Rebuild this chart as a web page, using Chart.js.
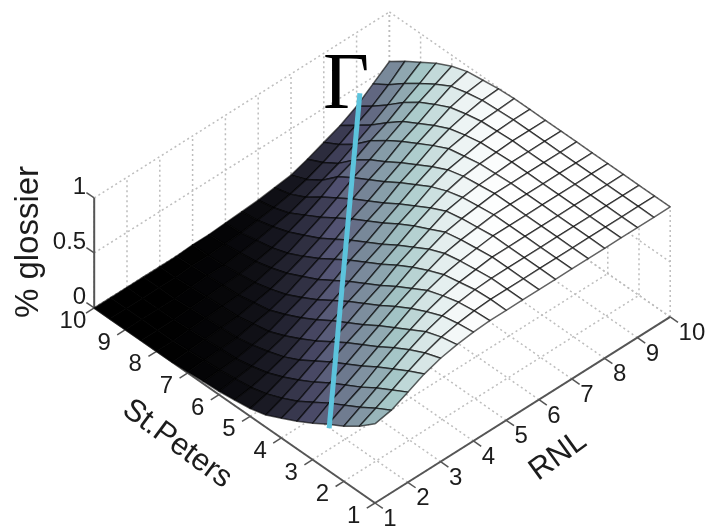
<!DOCTYPE html>
<html><head><meta charset="utf-8">
<style>html,body{margin:0;padding:0;background:#fff}canvas{display:block}</style>
<script src="https://cdn.jsdelivr.net/npm/chart.js@4/dist/chart.umd.min.js"></script>
</head><body><canvas id="c" width="720" height="527"></canvas>
<script>
const rnlTicks=[1,2,3,4,5,6,7,8,9,10];
const stPetersTicks=[1,2,3,4,5,6,7,8,9,10];
const glossTicks=[0,0.5,1];
const rnlGrid=[1,1.5,2,2.5,3,3.5,4,4.5,5,5.5,6,6.5,7,7.5,8,8.5,9,9.5,10];
const stPetersGrid=[1,1.5,2,2.5,3,3.5,4,4.5,5,5.5,6,6.5,7,7.5,8,8.5,9,9.5,10];
// % glossier: one row per RNL grid value, one column per St.Peters grid value
const gloss=[
[.72,.60,.50,.42,.33,.25,.18,.11,.07,.05,.03,.02,.01,0,0,0,0,0,0],
[.75,.67,.58,.50,.42,.33,.24,.17,.11,.07,.05,.03,.02,.01,0,0,0,0,0],
[.82,.74,.66,.57,.49,.41,.32,.24,.17,.11,.07,.04,.03,.02,.01,0,0,0,0],
[.89,.82,.74,.66,.57,.49,.41,.32,.23,.16,.11,.07,.04,.03,.02,.01,0,0,0],
[.94,.89,.82,.74,.65,.57,.49,.40,.31,.23,.16,.10,.07,.04,.03,.02,.01,0,0],
[.97,.94,.89,.81,.73,.65,.56,.48,.40,.31,.23,.16,.10,.07,.04,.03,.02,.01,0],
[.99,.97,.94,.88,.81,.73,.64,.56,.48,.39,.30,.22,.15,.10,.06,.04,.02,.01,.01],
[1,.99,.97,.93,.88,.80,.72,.63,.55,.47,.38,.29,.22,.15,.10,.06,.04,.02,.01],
[1,1,.99,.96,.93,.87,.80,.72,.63,.55,.47,.38,.29,.21,.14,.09,.06,.03,.02],
[1,1,1,.98,.96,.93,.87,.79,.71,.62,.54,.46,.37,.28,.21,.14,.09,.05,.03],
[1,1,1,1,.98,.96,.93,.86,.79,.71,.62,.54,.46,.37,.28,.20,.12,.07,.04],
[1,1,1,1,1,.98,.96,.93,.86,.78,.70,.61,.53,.45,.36,.27,.17,.10,.06],
[1,1,1,1,1,1,.98,.96,.92,.86,.78,.70,.61,.53,.45,.36,.23,.14,.08],
[1,1,1,1,1,1,1,.98,.96,.92,.85,.77,.69,.60,.52,.42,.29,.20,.13],
[1,1,1,1,1,1,1,.99,.98,.95,.92,.85,.77,.69,.60,.50,.37,.27,.19],
[1,1,1,1,1,1,1,1,.99,.98,.95,.91,.84,.76,.68,.57,.45,.35,.25],
[1,1,1,1,1,1,1,1,1,.99,.98,.95,.91,.84,.76,.66,.54,.43,.33],
[1,1,1,1,1,1,1,1,1,1,.99,.98,.95,.91,.83,.74,.64,.53,.44],
[1,1,1,1,1,1,1,1,1,1,1,.99,.97,.95,.90,.83,.74,.65,.55]
];
const gammaRnl=[1,9.1];
const gammaStPeters=[2.47,10];
const gammaGloss=[.39,.43];

// orthographic view of the 3-D box into the flat x/y scales
function view(r,s,z){
  return {x:375+(r-1)*32.8-(s-1)*31.2, y:503-(r-1)*20.67-(s-1)*21.67-z*110};
}
const boneStops=[[0,0,0,0],[.365,.32,.32,.445],[.746,.651,.785,.785],[1,1,1,1]];
function bone(v){
  for(let i=1;i<boneStops.length;i++){
    if(v<=boneStops[i][0]){
      const a=boneStops[i-1],b=boneStops[i],t=(v-a[0])/(b[0]-a[0]);
      return 'rgb('+[1,2,3].map(k=>Math.round(255*(a[k]+t*(b[k]-a[k])))).join(',')+')';
    }
  }
  return '#fff';
}
const datasets=[];
function line(pts,color,width,dash){
  datasets.push({data:pts,showLine:true,pointRadius:0,borderColor:color,borderWidth:width,borderDash:dash||[],fill:false,borderCapStyle:'butt'});
}
// top layer first: Chart.js paints the first dataset last
line(gammaRnl.map((r,i)=>view(r,gammaStPeters[i],gammaGloss[i])),'#5cc3dc',5);
for(let i=0;i<rnlGrid.length-1;i++){
  for(let j=0;j<stPetersGrid.length-1;j++){
    const z00=gloss[i][j],z10=gloss[i+1][j],z11=gloss[i+1][j+1],z01=gloss[i][j+1];
    const a=view(rnlGrid[i],stPetersGrid[j],z00),b=view(rnlGrid[i+1],stPetersGrid[j],z10),
          c=view(rnlGrid[i+1],stPetersGrid[j+1],z11),d=view(rnlGrid[i],stPetersGrid[j+1],z01);
    datasets.push({data:[a,b,c,d,a],showLine:true,pointRadius:0,fill:'shape',
      backgroundColor:bone((z00+z10+z11+z01)/4),borderColor:'rgba(0,0,0,.62)',borderWidth:1.5,borderJoinStyle:'round'});
  }
}
const axisColor='#555';
const rLo=rnlTicks[0],rHi=rnlTicks[9],sLo=stPetersTicks[0],sHi=stPetersTicks[9],zLo=glossTicks[0],zHi=glossTicks[2];
line([view(rLo,sHi,zLo),view(rLo,sHi,zHi)],axisColor,2);
line([view(rLo,sLo,zLo),view(rLo,sHi,zLo)],axisColor,2);
line([view(rLo,sLo,zLo),view(rHi,sLo,zLo)],axisColor,2);
stPetersTicks.forEach(s=>line([view(rLo,s,zLo),view(rLo-.25,s,zLo)],axisColor,1.5));
rnlTicks.forEach(r=>line([view(r,sLo,zLo),view(r,sLo-.25,zLo)],axisColor,1.5));
glossTicks.forEach(z=>line([view(rLo,sHi,z),view(rLo,sHi+.25,z)],axisColor,1.5));
const dotColor='#bdbdbd',dots=[2,3];
glossTicks.forEach(z=>{
  line([view(rLo,sHi,z),view(rHi,sHi,z)],dotColor,1.5,dots);
  line([view(rHi,sHi,z),view(rHi,sLo,z)],dotColor,1.5,dots);
});
rnlTicks.forEach(r=>{
  line([view(r,sHi,zLo),view(r,sHi,zHi)],dotColor,1.5,dots);
  line([view(r,sLo,zLo),view(r,sHi,zLo)],dotColor,1.5,dots);
});
stPetersTicks.forEach(s=>{
  line([view(rHi,s,zLo),view(rHi,s,zHi)],dotColor,1.5,dots);
  line([view(rLo,s,zLo),view(rHi,s,zLo)],dotColor,1.5,dots);
});

const labels={
  id:'labels3d',
  afterDraw(chart){
    const {ctx,scales:{x,y}}=chart;
    const at=(p)=>({px:x.getPixelForValue(p.x),py:y.getPixelForValue(p.y)});
    const put=(t,p,font,align,rot,base,color)=>{
      ctx.save();ctx.translate(p.px,p.py);ctx.rotate(rot||0);
      ctx.font=font;ctx.textAlign=align||'center';ctx.textBaseline=base||'middle';
      ctx.fillStyle=color||'#1c1c1c';ctx.fillText(t,0,0);ctx.restore();
    };
    const tickFont='24px "Liberation Sans"',titleFont='31px "Liberation Sans"';
    stPetersTicks.forEach(s=>{const a=at(view(rLo-.65,s,zLo));put(String(s),a,tickFont);});
    rnlTicks.forEach(r=>{const a=at(view(r,sLo-.3,zLo));put(String(r),{px:a.px-1,py:a.py+10},tickFont,'left');});
    glossTicks.forEach(z=>{const a=at(view(rLo,sHi,z));put(String(z),{px:a.px-8,py:a.py-11},tickFont,'right');});
    put('% glossier',{px:x.getPixelForValue(29),py:y.getPixelForValue(242)},'33px "Liberation Sans"','center',-Math.PI/2);
    put('St.Peters',{px:x.getPixelForValue(177),py:y.getPixelForValue(444)},titleFont,'center',36.5*Math.PI/180);
    put('RNL',{px:x.getPixelForValue(558),py:y.getPixelForValue(456)},titleFont,'center',-36*Math.PI/180);
    put('Γ',{px:x.getPixelForValue(323),py:y.getPixelForValue(108)},'80px "Liberation Serif"','left',0,'alphabetic','#000');
  }
};
new Chart(document.getElementById('c'),{
  type:'scatter',
  data:{datasets},
  plugins:[labels],
  options:{
    responsive:false,animation:false,
    layout:{padding:0},
    plugins:{legend:{display:false},tooltip:{enabled:false},title:{display:false}},
    scales:{
      x:{type:'linear',min:0,max:720,display:false},
      y:{type:'linear',min:0,max:527,reverse:true,display:false}
    }
  }
});
</script></body></html>
